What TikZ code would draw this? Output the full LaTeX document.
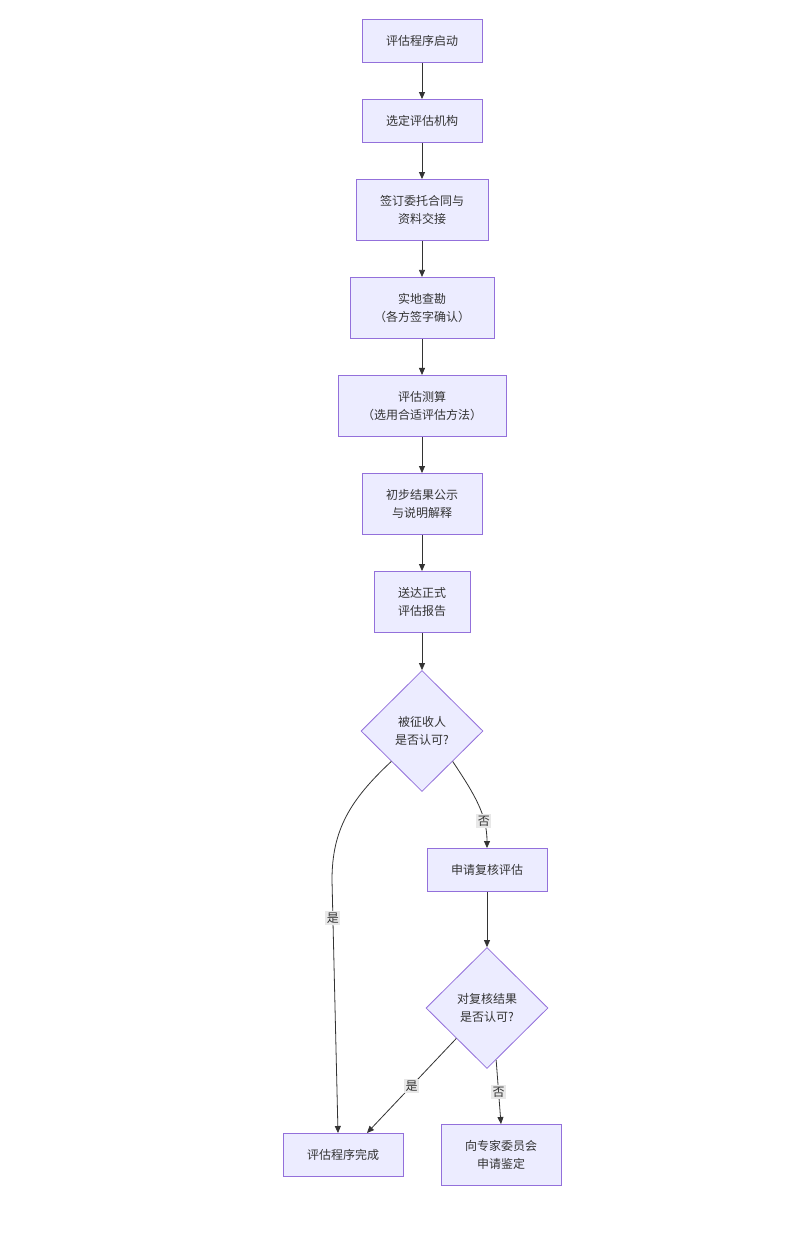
\documentclass[tikz,border=0pt]{standalone}
\usepackage{fontspec}
\newfontfamily\cjk{Noto Sans CJK SC}
\usepackage{xcolor}
\usepackage{tikz}
\usetikzlibrary{arrows.meta,shapes.geometric,calc,positioning}
\definecolor{relleno}{HTML}{ECECFF}
\definecolor{borde}{HTML}{9370DB}
\definecolor{trazo}{HTML}{333333}
\tikzset{
  caja/.style={rectangle,fill=relleno,draw=borde,line width=0.8pt,align=center,text=trazo,
    font=\cjk\fontsize{12}{18}\selectfont,inner xsep=24pt,inner ysep=16pt,minimum height=42pt},
  rombo/.style={diamond,fill=relleno,draw=borde,line width=0.8pt,align=center,text=trazo,
    font=\cjk\fontsize{12}{18}\selectfont,inner sep=1pt,minimum width=122pt,minimum height=121pt},
  flecha/.style={-{Triangle[length=7pt,width=6pt]},trazo,line width=0.8pt},
  etiqueta/.style={fill=gray!18,text=trazo,font=\cjk\fontsize{12}{14}\selectfont,inner sep=1.5pt}
}
\begin{document}
\begin{tikzpicture}[x=1pt,y=-1pt]
\useasboundingbox[fill=white] (0,0) rectangle (800,1254);
% pasos
\node[caja] (inicio) at (422,41) {评估程序启动};
\node[caja] (sel) at (422,121) {选定评估机构};
\node[caja] (firma) at (422,210) {签订委托合同与\\资料交接};
\node[caja] (visita) at (422,308) {实地查勘\\（各方签字确认）};
\node[caja] (calc) at (422,406) {评估测算\\（选用合适评估方法）};
\node[caja] (pub) at (422,504) {初步结果公示\\与说明解释};
\node[caja] (inf) at (422,602) {送达正式\\评估报告};
% decisiones
\node[rombo] (d1) at (422,731) {被征收人\\是否认可?};
\node[caja] (rev) at (487,870) {申请复核评估};
\node[rombo] (d2) at (487,1008) {对复核结果\\是否认可?};
\node[caja] (fin) at (343,1155) {评估程序完成};
\node[caja] (exp) at (501,1155) {向专家委员会\\申请鉴定};
% flechas
\draw[flecha] (inicio) -- (sel);
\draw[flecha] (sel) -- (firma);
\draw[flecha] (firma) -- (visita);
\draw[flecha] (visita) -- (calc);
\draw[flecha] (calc) -- (pub);
\draw[flecha] (pub) -- (inf);
\draw[flecha] (inf) -- (d1);
\coordinate (giro) at (332,880);
\draw[flecha] (d1.south west) .. controls (350,800) and (332,830) .. (giro)
  -- node[etiqueta,pos=0.15] {是} ([xshift=-5pt]fin.north);
\draw[flecha] (d1.south east) .. controls (475,795) and (487,815) .. node[etiqueta,pos=0.7] {否} (rev.north);
\draw[flecha] (rev) -- (d2);
\draw[flecha] (d2.south west) -- node[etiqueta] {是} ([xshift=24pt]fin.north);
\draw[flecha] (d2.-80) -- node[etiqueta] {否} (exp.north);
\end{tikzpicture}
\end{document}
